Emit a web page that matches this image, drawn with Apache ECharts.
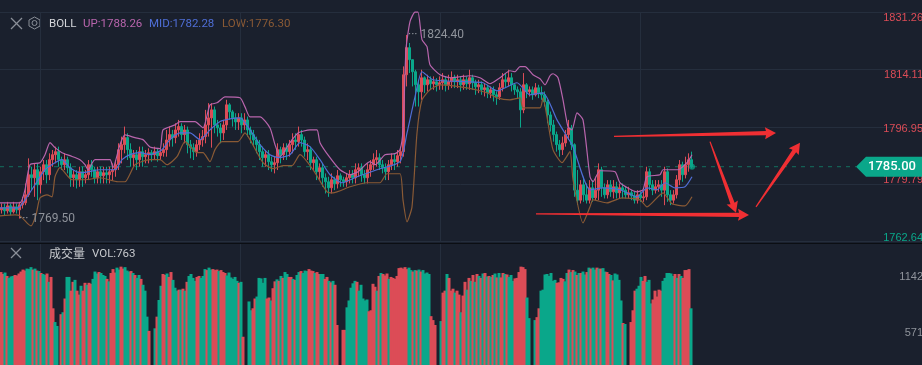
<!DOCTYPE html>
<html>
<head>
<meta charset="utf-8">
<style>html,body{margin:0;background:#1a202d}#chart{width:922px;height:365px}</style>
<script src="https://cdn.jsdelivr.net/npm/echarts@6/dist/echarts.min.js"></script>
</head>
<body>
<div id="chart"></div>
<script>
// price axis
const priceTicks = [1762.64, 1779.79, 1796.95, 1814.11, 1831.26];
const volTicks = [571, 1142];
const timeTicks = [40, 240, 440, 640];
const lastPrice = 1785;

// candles, one every 3 time units
const opens = [
1772.1,1772.7,1771.8,1773.3,1771.5,1773,1772.1,1773.6,1774.2,1776.6,
1782.6,1781.7,1784.1,1779.6,1783.5,1785.6,1782.6,1787.1,1788.6,1789.5,
1787.1,1785.6,1787.1,1784.7,1781.7,1782.6,1781.1,1783.5,1781.7,1782.6,
1785.6,1784.1,1781.7,1783.5,1782.3,1783.2,1782.6,1783.5,1784.1,1785.6,
1790.1,1791.6,1793.7,1790.1,1787.7,1788.6,1787.1,1789.5,1788,1788.6,
1789.2,1788.6,1789.5,1788.3,1789.2,1790.1,1793,1794.6,1793.7,1796,
1797,1794.6,1796,1791.6,1790.7,1789.5,1791.6,1793,1794,1797.5,
1799.6,1802,1797.5,1796.6,1795.1,1797.5,1803.5,1801.4,1799.6,1798.4,
1799.6,1797.5,1799,1796,1794.6,1793,1791.6,1789.5,1787.7,1788.6,
1786.5,1785.6,1786.2,1790.1,1788.6,1790.7,1789.5,1791.6,1793,1792.5,
1794.6,1793,1789.5,1790.1,1786.2,1787.1,1783.5,1784.7,1781.7,1780.5,
1778.7,1781.1,1779.9,1782.3,1781.1,1780.5,1781.7,1782.6,1781.7,1784.1,
1784.7,1782.6,1781.7,1784.1,1785.6,1787.1,1787.7,1785.6,1784.7,1783.5,
1785.6,1787.1,1786.5,1788.3,1789.5,1812.5,1820.6,1817,1813.4,1809.5,
1807.4,1811.6,1809.5,1811,1809.8,1810.4,1809.5,1810.1,1811,1809.5,
1810.4,1811.6,1810.4,1811,1809.5,1811,1809.8,1811.6,1810.1,1808.9,
1809.5,1808,1808.6,1807.1,1808,1806.5,1805.9,1808.6,1811,1810.4,
1811.6,1809.5,1808,1807.4,1802,1809.5,1807.4,1808,1806.5,1808.6,
1807.1,1806.5,1804.4,1800.5,1797.5,1794.6,1791.6,1790.1,1792.1,1794.6,
1796.6,1791.6,1778,1775,1779.6,1776.6,1775,1778.7,1775.7,1778,
1784.1,1778.7,1776.6,1779.6,1777.5,1779,1777.2,1778.7,1778,1776.6,
1777.2,1776.3,1775,1776.6,1775.7,1776,1783.5,1779.6,1778,1779,
1779.6,1778,1783.5,1776.6,1775,1776.6,1781.1,1785.6,1782.6,1785.6,
1787.1];
const closes = [
1772.7,1771.8,1773.3,1771.5,1773,1772.1,1773.6,1774.2,1776.6,1782.6,
1781.7,1784.1,1779.6,1783.5,1785.6,1782.6,1787.1,1788.6,1789.5,1787.1,
1785.6,1787.1,1784.7,1781.7,1782.6,1781.1,1783.5,1781.7,1782.6,1785.6,
1784.1,1781.7,1783.5,1782.3,1783.2,1782.6,1783.5,1784.1,1785.6,1790.1,
1791.6,1793.7,1790.1,1787.7,1788.6,1787.1,1789.5,1788,1788.6,1789.2,
1788.6,1789.5,1788.3,1789.2,1790.1,1793,1794.6,1793.7,1796,1797,
1794.6,1796,1791.6,1790.7,1789.5,1791.6,1793,1794,1797.5,1799.6,
1802,1797.5,1796.6,1795.1,1797.5,1803.5,1801.4,1799.6,1798.4,1799.6,
1797.5,1799,1796,1794.6,1793,1791.6,1789.5,1787.7,1788.6,1786.5,
1785.6,1786.2,1790.1,1788.6,1790.7,1789.5,1791.6,1793,1792.5,1794.6,
1793,1789.5,1790.1,1786.2,1787.1,1783.5,1784.7,1781.7,1780.5,1778.7,
1781.1,1779.9,1782.3,1781.1,1780.5,1781.7,1782.6,1781.7,1784.1,1784.7,
1782.6,1781.7,1784.1,1785.6,1787.1,1787.7,1785.6,1784.7,1783.5,1785.6,
1787.1,1786.5,1788.3,1789.5,1812.5,1820.6,1817,1813.4,1809.5,1807.4,
1811.6,1809.5,1811,1809.8,1810.4,1809.5,1810.1,1811,1809.5,1810.4,
1811.6,1810.4,1811,1809.5,1811,1809.8,1811.6,1810.1,1808.9,1809.5,
1808,1808.6,1807.1,1808,1806.5,1805.9,1808.6,1811,1810.4,1811.6,
1809.5,1808,1807.4,1802,1809.5,1807.4,1808,1806.5,1808.6,1807.1,
1806.5,1804.4,1800.5,1797.5,1794.6,1791.6,1790.1,1792.1,1794.6,1796.6,
1791.6,1778,1775,1779.6,1776.6,1775,1778.7,1775.7,1778,1784.1,
1778.7,1776.6,1779.6,1777.5,1779,1777.2,1778.7,1778,1776.6,1777.2,
1776.3,1775,1776.6,1775.7,1776,1783.5,1779.6,1778,1779,1779.6,
1778,1783.5,1776.6,1775,1776.6,1781.1,1785.6,1782.6,1785.6,1787.1,
1785];
const highs = [
1774,1774,1774.5,1774,1774.5,1774,1774.5,1776,1780,1787.5,
1785,1786,1786,1785,1787,1787,1789,1790,1791,1791,
1788,1789,1788,1786,1784,1784,1785,1785,1784,1787,
1787,1785,1785,1785,1785,1785,1785,1786,1787,1792,
1794,1797,1795,1792,1790,1790,1791,1791,1790,1790.5,
1790,1791,1790.5,1790.5,1792,1796,1797,1796,1798,1799,
1798,1797.5,1797,1793,1792,1793,1795,1796,1802,1804,
1804,1803,1799,1798,1799,1805,1804,1802,1801,1801,
1801,1801,1800,1797,1796,1794,1793,1791,1790,1790,
1788,1788,1792,1791,1792,1792,1793,1795,1795,1797,
1796,1794,1792,1791,1788,1788,1786,1786,1783,1782,
1783,1782,1784,1783,1782,1783,1784,1784,1786,1786,
1786,1784,1786,1787,1789,1790,1789,1787,1786,1787,
1789,1789,1790,1791,1815,1824.4,1822,1816,1814,1811,
1814,1812,1812.5,1812,1812,1811.5,1812,1813,1812,1812.5,
1813.5,1812.5,1812.5,1812,1812.5,1812,1814,1812.5,1811,1811,
1810.5,1810,1809.5,1809,1809,1807.5,1810,1813,1813,1814,
1813,1810,1809,1808.5,1813,1810,1809,1809,1810,1809.5,
1809,1807.5,1805,1801.5,1799,1795.5,1793,1794,1796,1799,
1797.5,1792,1784,1781,1782,1780,1781,1781,1782,1786,
1785,1780,1781,1781,1781,1780.5,1780,1780,1779,1779,
1778,1777.5,1778,1777.5,1778,1785,1784.5,1781,1781,1781,
1781,1785,1784.5,1778,1778,1782.5,1787,1786.5,1788,1789,
1789.5];
const lows = [
1771,1770.5,1771,1770.5,1771,1771,1769.5,1772.5,1773.5,1776,
1778,1776,1775,1777,1781,1780,1781,1785,1786,1785,
1784,1784,1783,1779,1779,1778.5,1779,1779,1780,1781,
1782,1780,1780,1780,1780,1780,1780,1781,1782,1784,
1786,1789,1787,1785,1785,1784,1785,1785,1786,1786,
1786.5,1787,1786.5,1787,1788,1788,1791,1791,1792,1794,
1793,1792,1789,1787.5,1787,1788,1790,1791,1792,1794,
1790.7,1795,1794,1792,1793,1796,1799,1797,1796,1796,
1795,1796,1794,1792,1791,1789,1787,1785,1785,1784,
1783.5,1783,1784,1786,1787,1787,1788,1789,1790,1791,
1791,1788,1787,1784,1784,1781,1781,1779,1777,1776,
1777,1778,1778.5,1779,1779,1779,1780,1780,1780,1782,
1780.5,1780,1780,1782,1784,1785,1784,1783,1781,1781,
1784,1784,1785,1786,1788,1809,1813,1809,1803,1803,
1805,1807,1807.5,1808,1808,1807.5,1808,1808,1807.5,1808,
1808.5,1808.5,1808.5,1807.5,1808,1808,1808,1808,1806.5,1807,
1806.5,1806,1805.5,1805.5,1804.5,1803.5,1805,1807.5,1808.5,1809,
1807.5,1806.5,1805.5,1796.7,1801,1805.5,1806,1805,1806,1805.5,
1805,1803,1798,1795.5,1792.5,1789.5,1788,1788.5,1791,1793,
1790,1776,1773.6,1774,1774.5,1774,1774,1774.5,1775,1775,
1776,1775.5,1775.5,1776,1775.5,1775.5,1775.5,1775.5,1775.5,1775.5,
1775,1774,1774,1774.5,1774.5,1775,1778,1776.5,1777,1777.5,
1776,1773.5,1774.5,1773.5,1774,1775.5,1779.5,1780.5,1781.5,1783.5,
1784.5];

// BOLL bands, points
const upT = [0,20,25,30,40,45,50,55,62,70,80,85,88,95,110,113,120,125,135,143,150,160,163,175,180,195,203,210,217,225,240,245,250,260,270,275,280,290,298,310,317,320,330,340,350,358,370,375,385,395,400,403,406,410,415,418,422,427,430,440,450,460,470,480,490,500,510,515,520,525,533,540,545,550,553,558,563,568,572,577,583,590,593,600,615,620,637,643,647,660,663,678,687,692];
const upV = [1774.2,1774.2,1778.1,1785.6,1786.2,1788.6,1792.2,1790.7,1789.2,1788.3,1787.1,1785.6,1784.1,1787.1,1787.1,1784.7,1791.6,1794.5,1793.7,1793.1,1790.9,1790.4,1796,1797.5,1798.5,1798.5,1796.6,1803.5,1804.1,1805.9,1805.6,1802.9,1799.9,1799.9,1796.6,1791.6,1788,1792.2,1795.1,1796,1796,1792.2,1787.7,1784.1,1782.6,1783.5,1786.5,1785.6,1788.6,1788.9,1790.1,1796,1820,1828.4,1831.2,1831.2,1823,1820.9,1815.5,1812.5,1811.6,1811.9,1812.2,1811.6,1809.8,1811.6,1813.7,1813.4,1814.9,1814.9,1812.5,1811.3,1809.5,1812.2,1812.8,1811.6,1805,1796.9,1796,1801.1,1799,1782,1780.5,1783.8,1783.5,1780.2,1777.5,1778.1,1782,1782.6,1784.1,1784.1,1786.2,1788.6];
const midT = [0,18,25,35,45,55,62,70,80,88,100,115,122,130,140,150,162,170,180,190,200,210,220,230,240,250,260,270,279,290,300,310,320,330,342,357,377,400,407,415,422,433,467,483,497,517,530,543,557,567,573,590,603,620,637,647,657,665,675,685,692];
const midV = [1772.7,1772.7,1775.1,1779.6,1784.1,1786.2,1787.1,1784.7,1783.2,1783.5,1784.1,1784.1,1787.1,1788.6,1789.2,1788.6,1790.1,1793.1,1795.1,1795.1,1793.1,1796,1798.5,1799.3,1799.6,1796,1791.6,1788.6,1787.7,1788.6,1792.2,1791,1787.1,1782.6,1780.2,1782,1784.1,1786.5,1795.1,1805.9,1813.4,1811,1810.4,1810.1,1807.7,1810.1,1806.5,1807.1,1799,1794,1791,1778.1,1778.7,1778.1,1776,1778.7,1778.1,1780.2,1778.7,1779,1782];
const lowT = [0,15,20,28,31,36,40,47,52,55,60,72,85,100,118,125,135,150,160,167,177,185,197,203,210,215,222,238,245,250,263,273,283,292,300,313,327,333,350,367,380,387,400,403,407,412,417,422,430,440,467,487,497,510,520,523,540,543,547,553,562,570,573,583,590,593,607,622,640,647,663,672,685,692];
const lowV = [1770.3,1770.6,1770.3,1767.9,1767.3,1770.6,1775.7,1776.6,1776,1782,1784.7,1781.1,1781.1,1781.7,1780.5,1780.5,1785.6,1787.1,1787.1,1785.6,1788,1792.5,1789.2,1789.2,1786.5,1790.1,1792.5,1792.5,1795.1,1793.1,1786.2,1784.4,1785.3,1785.3,1788.6,1784.1,1777.5,1777.2,1779,1780.2,1780.2,1782.9,1782.9,1775.1,1768.5,1773,1795.1,1805,1808,1809.5,1808.6,1807.1,1805.6,1805,1805.6,1802.6,1802.6,1805.6,1799.9,1790.1,1786.2,1789.5,1781.1,1768.2,1773,1775.1,1774.2,1775.7,1775.1,1773,1777.2,1773.9,1773.3,1776];

// volume, one bar every 2 time units
const volumes = [
1190,1170,1185,1150,1130,1145,1150,1160,1155,1175,
1195,1215,1205,1225,1220,1240,1215,1225,1205,1200,
1180,1170,1160,1175,1090,1140,820,680,640,100,
760,780,920,1140,1140,1000,1090,1110,1000,960,
1050,1000,1080,1060,1080,1070,1120,1195,1175,1190,
1180,1160,1150,1120,1095,1180,1220,1185,1235,1215,
1245,1225,1240,1205,1195,1200,1180,1160,1130,1160,
1120,1060,1000,735,590,100,100,616,735,905,
1050,1170,1160,1175,1140,1190,1110,1030,1000,1010,
1010,1020,1000,1090,1150,1170,1130,1100,1140,1150,
1130,1150,1220,1210,1235,1215,1220,1210,1215,1200,
1210,1190,1180,1155,1185,1135,1120,1140,1100,1080,
1090,530,100,100,890,800,820,920,940,1130,
1125,1080,1130,920,930,900,1025,1095,1115,1100,
1150,1130,1190,1170,1140,1140,1120,1110,1160,1190,
1200,1180,1205,1200,1220,1205,1200,1180,1190,1170,
1170,1170,1120,1140,1100,1085,1100,1060,650,100,
100,600,600,830,900,1030,1075,1100,1090,1000,
1060,920,900,910,790,800,1070,1040,1000,1150,
1180,1170,1155,1175,1120,1140,1130,1120,1150,1230,
1235,1225,1240,1220,1235,1210,1195,1210,1205,1215,
1195,1210,1175,1185,1170,740,700,650,100,100,
690,980,1000,1170,1130,1000,1020,980,1000,960,
780,950,1090,1010,1130,1100,1160,1090,1170,1150,
1130,1175,1180,1145,1150,1140,1160,1175,1135,1180,
1135,1180,1170,1165,1140,1160,1100,1125,1130,1190,
1245,1240,1220,930,720,100,100,700,730,820,
1000,1010,1165,1170,1150,1180,1100,1110,1080,1085,
1130,1120,1095,1180,1215,1190,1210,1195,1160,1180,
1180,1195,1165,1190,1235,1225,1235,1215,1235,1225,
1225,1230,1195,1190,1170,1160,1105,1175,1165,1110,
900,670,660,100,100,680,800,1000,1020,1050,
1140,1100,1150,1090,1110,870,910,1000,940,1010,
1000,1100,1130,1180,1180,1175,1150,1170,1130,1170,
1150,1130,1210,1210,1220,820];
// r = up bar, g = down bar
const volSides = "rrgrgggrrr" + "rrrgggrgrg" + "rggrgrrggr" + "rgrggrrgrr" + "grrgrrgggr" + "gggrgrrrgg" + "rrgggrgrgg" + "rgggrrrgrg" + "grrgrrgggr" + "grgrggggrr" + "gggrggrrrg" + "rrrggggggr" + "grrrggrrgg" + "gggrrgrrgr" + "grggrrgrgg" + "rgggrrrgrr" + "ggrrgrgrrr" + "rrrgggggrg" + "ggggrrrrgr" + "grrrgrrrrr" + "rrrrggrgrg" + "rggggrrrgg" + "grrgrrrgrr" + "grrgrgrgrg" + "rgrgrgrgrg" + "rrgrgggrrr" + "rrrgggggrr" + "ggggggggrr" + "rrggrgrgrg" + "rggrgrggrg" + "rggrrgrggg" + "grgggrrrgg" + "grrgggrrrr" + "rggggggrgr" + "grrrrg";

// hand drawn arrows: time, price -> time, price
const arrows = [
  [614, 1794.1, 776, 1795.1],
  [536, 1770.9, 749, 1770.6],
  [710, 1792.5, 736, 1771.2],
  [756, 1773.0, 800, 1792.2],
];

const RED = "#dc4c57";
const GREEN = "#0aa78a";
const PINK = "#b965ad";
const BLUE = "#4f6ed6";
const BROWN = "#8a5a35";
const GRID = "#252e3d";
const LABEL_GREY = "#8f939b";

const chart = echarts.init(document.getElementById("chart"), null, { renderer: "canvas" });

const zip = (t, v) => t.map((x, i) => [x, v[i]]);
const candles = opens.map((o, i) => [3 * i + 1.5, o, closes[i], lows[i], highs[i]]);
const volumeBars = volumes.map((v, j) => ({
  value: [2 * j + 1, v],
  itemStyle: { color: volSides[j] === "r" ? RED : GREEN },
}));

const renderArrow = (params, api) => {
  const a = api.coord([api.value(0), api.value(1)]);
  const b = api.coord([api.value(2), api.value(3)]);
  const len = Math.hypot(b[0] - a[0], b[1] - a[1]);
  const ux = (b[0] - a[0]) / len;
  const uy = (b[1] - a[1]) / len;
  const at = (d, w) => [a[0] + ux * d - uy * w, a[1] + uy * d + ux * w];
  const neck = len - 10;
  return {
    type: "polygon",
    shape: {
      points: [at(0, 0.6), at(neck, 2.2), at(neck - 1, 6), at(len, 0), at(neck - 1, -6), at(neck, -2.2), at(0, -0.6)],
    },
    style: { fill: "#f02f33" },
  };
};

const priceLabel = (v) => {
  const p = Number(v).toFixed(2);
  if (p === "1831.26") return "{rt|" + p + "}";
  if (p === "1814.11") return "{rt|" + p + "}";
  if (p === "1796.95") return "{rm|" + p + "}";
  if (p === "1779.79") return "{rb|" + p + "}";
  return "{gb|" + p + "}";
};

const labelFont = { fontFamily: "Liberation Sans", fontSize: 11 };

const option = {
  backgroundColor: "#1a202d",
  animation: false,
  grid: [
    { left: 0, top: 12, width: 921, height: 229.5, outerBoundsMode: "none" },
    { left: 0, top: 244, width: 921, height: 144.7, outerBoundsMode: "none" },
  ],
  xAxis: [
    {
      type: "value", gridIndex: 0, min: 0, max: 921,
      axisLine: { show: false },
      axisLabel: { show: false },
      axisTick: { show: false, customValues: timeTicks },
      splitLine: { show: true, lineStyle: { color: GRID } },
    },
    {
      type: "value", gridIndex: 1, min: 0, max: 921,
      axisLine: { show: false },
      axisLabel: { show: false },
      axisTick: { show: false, customValues: timeTicks },
      splitLine: { show: true, lineStyle: { color: GRID } },
    },
  ],
  yAxis: [
    {
      type: "value", gridIndex: 0, position: "right",
      min: 1762.64, max: 1831.26,
      axisLine: { show: false },
      axisTick: { show: false, customValues: priceTicks },
      splitLine: { show: true, lineStyle: { color: GRID } },
      axisLabel: {
        inside: true, margin: -2,
        customValues: priceTicks,
        formatter: priceLabel,
        rich: {
          rt: { ...labelFont, color: RED, padding: [12, 0, 0, 0] },
          rm: { ...labelFont, color: RED, padding: [4, 0, 0, 0] },
          rb: { ...labelFont, color: RED, padding: [0, 0, 8, 0] },
          gb: { ...labelFont, color: GREEN, padding: [0, 0, 7, 0] },
        },
      },
    },
    {
      type: "value", gridIndex: 1, position: "right",
      min: 0, max: 1476,
      axisLine: { show: false },
      axisTick: { show: false, customValues: volTicks },
      splitLine: { show: false },
      axisLabel: {
        inside: true, margin: -2,
        customValues: volTicks,
        formatter: (v) => String(v),
        color: LABEL_GREY, fontFamily: "Liberation Sans", fontSize: 11,
      },
    },
  ],
  series: [
    {
      name: "last", type: "line", xAxisIndex: 0, yAxisIndex: 0, z: 1,
      data: [[0, lastPrice], [856, lastPrice]],
      showSymbol: false, silent: true,
      lineStyle: { color: "#13705f", width: 1, type: [4, 5] },
      markPoint: {
        silent: true,
        data: [
          {
            coord: [889, lastPrice],
            symbol: "path://M0 10L10 0L66 0L66 20L10 20Z",
            symbolSize: [66, 20],
            itemStyle: { color: GREEN },
            label: {
              show: true, formatter: "1785.00", color: "#fff", offset: [3, 0],
              fontFamily: "Roboto", fontSize: 13, fontWeight: 500,
            },
          },
          {
            coord: [692, lastPrice],
            symbol: "circle",
            symbolSize: 6,
            itemStyle: { color: "rgba(10,167,138,0.75)" },
            label: { show: false },
          },
        ],
      },
    },
    {
      name: "K", type: "candlestick", xAxisIndex: 0, yAxisIndex: 0, z: 2,
      data: candles,
      encode: { x: 0, y: [1, 2, 3, 4] },
      barWidth: 3,
      itemStyle: { color: RED, color0: GREEN, borderColor: RED, borderColor0: GREEN, borderWidth: 1 },
      markPoint: {
        silent: true,
        symbol: "circle",
        symbolSize: 0.1,
        label: { show: true, position: "right", distance: 0, color: LABEL_GREY, fontFamily: "Roboto", fontSize: 12 },
        data: [
          { coord: [408, 1824.4], label: { formatter: "··· 1824.40" } },
          { coord: [19, 1769.5], label: { formatter: "··· 1769.50" } },
        ],
      },
    },
    {
      name: "UP", type: "line", xAxisIndex: 0, yAxisIndex: 0, z: 3, clip: false,
      data: zip(upT, upV), showSymbol: false, silent: true, smooth: 0.2,
      lineStyle: { color: PINK, width: 1.2 },
    },
    {
      name: "MID", type: "line", xAxisIndex: 0, yAxisIndex: 0, z: 3,
      data: zip(midT, midV), showSymbol: false, silent: true, smooth: 0.2,
      lineStyle: { color: BLUE, width: 1.2 },
    },
    {
      name: "LOW", type: "line", xAxisIndex: 0, yAxisIndex: 0, z: 3,
      data: zip(lowT, lowV), showSymbol: false, silent: true, smooth: 0.2,
      lineStyle: { color: BROWN, width: 1.2 },
    },
    {
      name: "arrows", type: "custom", xAxisIndex: 0, yAxisIndex: 0, z: 4,
      data: arrows, renderItem: renderArrow, silent: true,
      encode: { x: [0, 2], y: [1, 3] },
    },
    {
      name: "VOL", type: "bar", xAxisIndex: 1, yAxisIndex: 1,
      data: volumeBars, barWidth: 3, silent: true,
    },
  ],
  graphic: [
    // pane separator
    { type: "rect", shape: { x: 0, y: 243, width: 922, height: 1 }, style: { fill: "#0b0e13" }, z: 10 },
    // BOLL legend
    { type: "polyline", shape: { points: [[11, 18], [22, 29]] }, style: { stroke: "#8a8f98", lineWidth: 1.2, fill: null } },
    { type: "polyline", shape: { points: [[22, 18], [11, 29]] }, style: { stroke: "#8a8f98", lineWidth: 1.2, fill: null } },
    { type: "polygon", shape: { points: [[34.5, 17], [40, 20], [40, 26], [34.5, 29], [29, 26], [29, 20]] }, style: { stroke: "#8a8f98", lineWidth: 1, fill: null } },
    { type: "circle", shape: { cx: 34.5, cy: 23, r: 2.5 }, style: { stroke: "#8a8f98", lineWidth: 1, fill: null } },
    { type: "text", x: 49, y: 18, style: { text: "BOLL", fill: "#d3d5d9", font: "11.5px Roboto" } },
    { type: "text", x: 83, y: 18, style: { text: "UP:1788.26", fill: PINK, font: "11.5px Roboto" } },
    { type: "text", x: 149, y: 18, style: { text: "MID:1782.28", fill: BLUE, font: "11.5px Roboto" } },
    { type: "text", x: 222, y: 18, style: { text: "LOW:1776.30", fill: BROWN, font: "11.5px Roboto" } },
    // volume legend
    { type: "polyline", shape: { points: [[11, 248], [21, 258]] }, style: { stroke: "#8a8f98", lineWidth: 1.2, fill: null } },
    { type: "polyline", shape: { points: [[21, 248], [11, 258]] }, style: { stroke: "#8a8f98", lineWidth: 1.2, fill: null } },
    { type: "text", x: 49, y: 247, style: { text: "成交量", fill: "#c6c8cc", font: "12px 'Noto Sans CJK SC'" } },
    { type: "text", x: 92, y: 248, style: { text: "VOL:763", fill: "#c6c8cc", font: "11.5px Roboto" } },
  ],
};

chart.setOption(option);
window.addEventListener("resize", () => chart.resize());
</script>
</body>
</html>
